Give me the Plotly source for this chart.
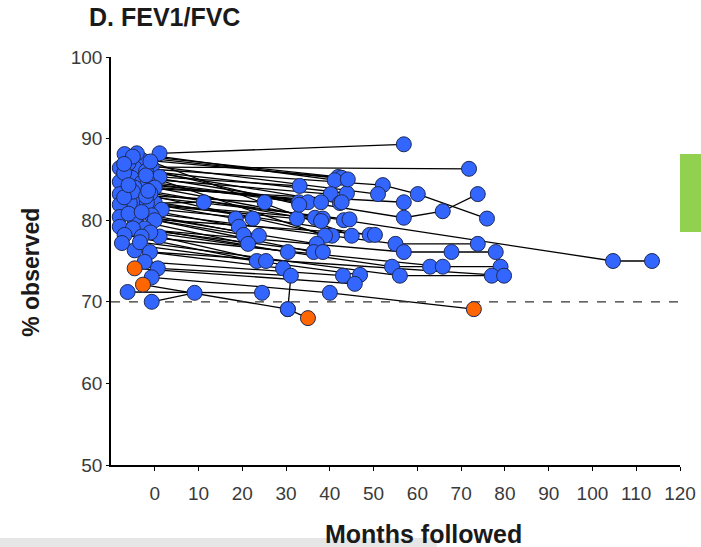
import plotly.graph_objects as go

# FEV1/FVC per patient: months of follow-up and % observed at each visit.
# flag 1 marks the highlighted (orange) visits.
patient_months = [
    [1.1, 56.9], [-0.7, 71.8], [-6.9, 41.9], [-3.0, 42.7], [-4.1, 41.1],
    [-4.6, 52.1, 60.1, 75.9], [1.1, 33.1], [-8.0, 43.9], [-5.3, 40.2], [-6.0, 51.0],
    [-3.0, 32.9], [-1.6, 35.0], [-8.0, 38.0], [-2.0, 42.3], [-4.6, 56.9],
    [-8.0, 25.1], [0.0, 11.2], [-7.0, 56.9, 65.8, 73.8], [-3.9, 36.6], [-5.7, 32.5],
    [0.0, 38.4], [-1.0, 43.2, 104.7, 113.6], [-1.8, 18.5], [1.6, 22.4], [-8.0, 19.2],
    [-4.1, 20.3], [-0.7, 23.8], [-5.0, 40.5], [-2.0, 38.9], [-1.0, 45.0],
    [-7.0, 49.1], [-8.0, 50.3], [-4.6, 21.3], [-6.0, 37.0], [-3.0, 55.0, 73.8],
    [0.0, 36.3], [-8.0, 38.4], [-2.3, 30.4], [-5.0, 56.9, 67.8, 77.9], [-6.9, 23.3],
    [1.1, 25.4], [-4.6, 29.3], [-1.0, 54.2, 62.9], [-3.0, 65.8, 79.0], [-7.5, 46.9],
    [-3.4, 56.0, 77.0], [-1.1, 79.8], [-2.3, 43.0], [-4.6, 45.7], [0.7, 31.1, 30.4],
    [-0.7, 40.0, 72.9], [-2.7, 30.4, 35.0], [-0.7, 9.1], [-6.2, 24.5],
    [-5.0, 44.1], [-6.0, 42.7], [-2.0, 44.5], [-7.0, 33.0], [-1.5, 38.0],
]
patient_values = [
    [88.2, 89.3], [86.5, 86.3], [88.1, 85.3], [87.4, 85.2], [88.2, 84.9],
    [86.4, 84.3, 83.2, 80.2], [85.3, 84.2], [86.4, 83.3], [85.2, 83.2], [87.0, 83.2],
    [84.6, 82.2], [84.7, 82.2], [84.7, 82.2], [86.0, 82.1], [84.0, 82.2],
    [83.2, 82.2], [82.1, 82.2], [85.8, 80.3, 81.1, 83.2], [82.1, 80.3], [82.1, 80.2],
    [84.0, 80.2], [83.3, 80.0, 75.0, 75.0], [82.1, 80.2], [81.3, 80.2], [81.9, 79.2],
    [80.4, 78.2], [80.6, 78.1], [83.5, 78.1], [85.5, 78.1], [87.2, 78.1],
    [82.8, 78.2], [80.4, 78.2], [80.0, 77.1], [80.8, 77.1], [81.0, 77.1, 77.1],
    [80.0, 76.1], [79.2, 76.1], [79.0, 76.1], [79.0, 76.1, 76.1, 76.1], [78.2, 75.0],
    [78.0, 75.0], [76.3, 74.1], [78.5, 74.3, 74.3], [78.0, 74.3, 74.3], [77.2, 73.3],
    [77.3, 73.2, 73.2], [76.1, 73.2], [74.9, 73.2], [74.1, 72.2], [74.1, 73.2, 69.1],
    [73.0, 71.1, 69.1], [72.1, 69.1, 68.0], [70.0, 71.1], [71.2, 71.1],
    [87.8, 85.0], [84.3, 82.2], [82.9, 80.1], [86.9, 81.9], [83.6, 79.9],
]
patient_flags = [
    [0, 0], [0, 0], [0, 0], [0, 0], [0, 0],
    [0, 0, 0, 0], [0, 0], [0, 0], [0, 0], [0, 0],
    [0, 0], [0, 0], [0, 0], [0, 0], [0, 0],
    [0, 0], [0, 0], [0, 0, 0, 0], [0, 0], [0, 0],
    [0, 0], [0, 0, 0, 0], [0, 0], [0, 0], [0, 0],
    [0, 0], [0, 0], [0, 0], [0, 0], [0, 0],
    [0, 0], [0, 0], [0, 0], [0, 0], [0, 0, 0],
    [0, 0], [0, 0], [0, 0], [0, 0, 0, 0], [0, 0],
    [0, 0], [0, 0], [0, 0, 0], [0, 0, 0], [0, 0],
    [0, 0, 0], [0, 0], [0, 0], [1, 0], [0, 0, 0],
    [0, 0, 1], [1, 0, 1], [0, 0], [0, 0],
    [0, 0], [0, 0], [0, 0], [0, 0], [0, 0],
]

x_ticks = [0, 10, 20, 30, 40, 50, 60, 70, 80, 90, 100, 110, 120]
y_ticks = [50, 60, 70, 80, 90, 100]
reference_level = 70

BLUE = "#3366FF"
ORANGE = "#FF6600"
FONT = "Arial, Liberation Sans, sans-serif"

fig = go.Figure()

# connecting lines first so every marker sits on top
line_x, line_y = [], []
for mx, vy in zip(patient_months, patient_values):
    line_x += mx + [None]
    line_y += vy + [None]
fig.add_trace(go.Scatter(x=line_x, y=line_y, mode="lines",
                         line=dict(color="black", width=1.3),
                         hoverinfo="skip", showlegend=False))

# dashed 70 % reference line
fig.add_trace(go.Scatter(x=[-10, 120], y=[reference_level, reference_level],
                         mode="lines", line=dict(color="#333333", width=1.3, dash="dash"),
                         hoverinfo="skip", showlegend=False))

pt_x, pt_y, pt_c = [], [], []
for mx, vy, fl in zip(patient_months, patient_values, patient_flags):
    pt_x += mx
    pt_y += vy
    pt_c += [ORANGE if f else BLUE for f in fl]
fig.add_trace(go.Scatter(x=pt_x, y=pt_y, mode="markers",
                         marker=dict(size=15, color=pt_c,
                                     line=dict(color="#1f2a55", width=1)),
                         showlegend=False))

fig.update_layout(
    width=701, height=547,
    margin=dict(l=111, r=21, t=57, b=82, autoexpand=False),
    paper_bgcolor="white", plot_bgcolor="white",
    font=dict(family=FONT, size=19, color="#3a3a3a"),
    xaxis=dict(range=[-10, 120], tickvals=x_ticks, ticks="outside", ticklen=4,
               tickcolor="black", showline=True, linecolor="black", linewidth=1.5,
               showgrid=False, zeroline=False, ticklabelstandoff=6, automargin=False,
               tickfont=dict(size=19, color="#3a3a3a")),
    yaxis=dict(range=[50, 100], tickvals=y_ticks, ticks="outside", ticklen=3,
               tickcolor="black", showline=True, linecolor="black", linewidth=1.5,
               showgrid=False, zeroline=False, automargin=False,
               tickfont=dict(size=19, color="#3a3a3a")),
    annotations=[
        dict(text="<b>D. FEV1/FVC</b>", xref="paper", yref="paper",
             x=-0.043, y=1.098, xanchor="left", yanchor="middle", showarrow=False,
             font=dict(family=FONT, size=25, color="#1a1a1a")),
        dict(text="<b>% observed</b>", xref="paper", yref="paper",
             x=-0.141, y=0.473, xanchor="center", yanchor="middle", textangle=-90,
             showarrow=False, font=dict(family=FONT, size=23, color="#1a1a1a")),
        dict(text="<b>Months followed</b>", xref="paper", yref="paper",
             x=0.55, y=-0.17, xanchor="center", yanchor="middle", showarrow=False,
             font=dict(family=FONT, size=25, color="#1a1a1a")),
    ],
    shapes=[
        dict(type="rect", xref="paper", yref="paper", x0=1.0, x1=1.04,
             y0=0.571, y1=0.762, fillcolor="#92D050", line=dict(width=0)),
        dict(type="rect", xref="paper", yref="paper", x0=-0.2, x1=0.573,
             y0=-0.205, y1=-0.179, fillcolor="#E6E6E6", line=dict(width=0)),
    ],
)

fig.write_html("out.html")
